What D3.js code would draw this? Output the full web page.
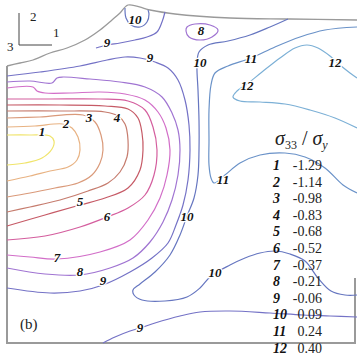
<!DOCTYPE html>
<html>
<head>
<meta charset="utf-8">
<script src="https://cdn.jsdelivr.net/npm/d3@7"></script>
<style>
  body { margin: 0; background: #fff; }
  svg text { font-family: "Liberation Serif", "DejaVu Serif", serif; }
</style>
</head>
<body>
<div id="chart"></div>
<script>
// contour levels and their sigma33/sigmay values (legend)
const contourLevels = [1, 2, 3, 4, 5, 6, 7, 8, 9, 10, 11, 12];
const levelValues = [-1.29, -1.14, -0.98, -0.83, -0.68, -0.52, -0.37, -0.21, -0.06, 0.09, 0.24, 0.40];

// plate outline, [x, depth] in plate units
const plateArc = [[0, 61], [13, 58], [26, 55], [43, 48], [60, 43], [78, 35], [93, 25], [105, 15], [113, 8], [121, 0]];
const plateTop = [[143, 5], [168, 9], [223, 13], [283, 14], [350, 15]];

// contour lines, [x, depth]
const contour1 = [[0, 130], [23, 130], [43, 131], [47, 136], [45, 144], [35, 153], [18, 158], [0, 160]];
const contour2 = [[0, 122], [28, 121], [56, 119], [65, 123], [71, 132], [73, 145], [70, 155], [61, 162], [43, 166], [23, 171], [0, 176]];
const contour3 = [[0, 113], [33, 112], [76, 110], [88, 117], [94, 130], [96, 145], [93, 158], [85, 170], [71, 178], [48, 183], [23, 188], [0, 192]];
const contour4 = [[0, 106], [53, 106], [98, 107], [111, 111], [118, 119], [121, 135], [120, 152], [113, 167], [101, 178], [81, 186], [53, 195], [23, 202], [0, 207]];
const contour5 = [[0, 100], [53, 100], [98, 101], [121, 104], [131, 113], [135, 128], [136, 145], [133, 165], [121, 183], [98, 193], [73, 200], [38, 210], [0, 221]];
const contour6 = [[0, 94], [43, 94], [93, 94], [121, 96], [138, 105], [146, 122], [150, 145], [147, 170], [138, 190], [121, 203], [100, 212], [73, 222], [38, 231], [0, 235]];
const contour7 = [[0, 83], [26, 82], [30, 86], [38, 88], [63, 88], [93, 87], [118, 89], [138, 95], [151, 107], [159, 123], [163, 145], [160, 170], [153, 193], [141, 215], [123, 235], [93, 247], [50, 254], [23, 252], [0, 250]];
const contour8 = [[0, 77], [23, 76], [45, 78], [50, 73], [56, 72], [83, 74], [113, 77], [138, 82], [155, 92], [165, 108], [171, 125], [173, 145], [171, 170], [165, 195], [156, 217], [143, 237], [126, 253], [103, 263], [73, 270], [38, 269], [0, 263]];
const contour8Loop = [[180, 22], [188, 19], [203, 20], [211, 25], [205, 32], [193, 35], [182, 32], [179, 26]];
const contour9 = [[0, 71], [33, 67], [73, 61], [100, 55], [118, 52], [133, 53], [148, 57], [161, 63], [171, 75], [178, 95], [182, 120], [183, 145], [181, 175], [176, 200], [169, 220], [161, 238], [145, 253], [123, 267], [96, 280], [73, 286], [43, 288], [0, 283]];
const contour9Corner = [[89, 43], [100, 40], [113, 38], [128, 35], [140, 32], [150, 27], [155, 17], [158, 7]];
const contour9Bottom = [[96, 338], [108, 332], [123, 326], [133, 323], [148, 318], [173, 311], [193, 307], [223, 306], [263, 308], [296, 310], [323, 311], [350, 312]];
const contour10Corner = [[118, 3], [119, 13], [124, 20], [133, 22], [140, 17], [142, 9], [141, 5]];
const contour10 = [[281, 14], [263, 22], [243, 30], [221, 36], [201, 40], [192, 47], [190, 60], [191, 85], [192, 115], [192, 145], [191, 170], [187, 193], [180, 211], [173, 230], [163, 250], [148, 267], [133, 279], [126, 285], [127, 290], [135, 295], [158, 296], [180, 292], [193, 283], [204, 271], [223, 260], [238, 253], [253, 248], [268, 246], [283, 249], [298, 256], [311, 273], [324, 286], [338, 290], [350, 290]];
const contour11 = [[350, 22], [318, 25], [293, 32], [268, 42], [244, 53], [221, 61], [208, 68], [204, 80], [202, 105], [202, 135], [202, 160], [204, 173], [207, 178], [218, 170], [233, 158], [253, 150], [278, 148], [298, 152], [318, 163], [336, 180], [350, 188]];
const contour12 = [[350, 73], [343, 68], [333, 60], [323, 51], [311, 43], [300, 40], [288, 43], [273, 53], [255, 67], [240, 79], [230, 86], [226, 92], [233, 96], [253, 97], [278, 99], [303, 105], [328, 113], [350, 123]];

// contour labels: [level, x, depth]
const contourLabels = [
  [1, 35, 126], [2, 59, 118], [3, 82, 112], [4, 110, 112], [5, 73, 196], [6, 100, 211],
  [7, 50, 252], [8, 73, 266], [9, 96, 275], [9, 100, 37], [9, 143, 52], [10, 128, 14],
  [8, 194, 25], [10, 193, 57], [11, 244, 53], [12, 328, 57], [12, 240, 80],
  [11, 216, 174], [10, 180, 211], [10, 208, 267], [9, 133, 322]
];

const levelColors = ['#f0e46a', '#e8b282', '#da9a7a', '#c67c6e', '#c65a66', '#d45e9e',
  '#d26ec8', '#a074d2', '#7472c6', '#6676c0', '#6a92c8', '#7cb0d6'];

const width = 357;
const height = 360;

const svg = d3.select('#chart')
  .append('svg')
  .attr('width', width)
  .attr('height', height)
  .attr('font-family', '"Liberation Serif", "DejaVu Serif", serif');

const x = d3.scaleLinear().domain([0, 348]).range([7, 355]);
const y = d3.scaleLinear().domain([0, 338]).range([5, 343]);
const color = d3.scaleOrdinal().domain(contourLevels).range(levelColors);

const line = d3.line()
  .x(d => x(d[0]))
  .y(d => y(d[1]))
  .curve(d3.curveCatmullRom.alpha(0.5));

// plate frame
svg.append('path')
  .attr('d', line(plateArc.concat(plateTop)))
  .attr('fill', 'none')
  .attr('stroke', '#9a9a9a')
  .attr('stroke-width', 1.3);

svg.append('path')
  .attr('d', d3.line()([[x(0), y(61)], [x(0), y(338)], [x(348), y(338)], [x(348), y(273)]]))
  .attr('fill', 'none')
  .attr('stroke', '#9a9a9a')
  .attr('stroke-width', 2);

// contour lines
const contourLines = [
  { level: 1, pts: contour1 }, { level: 2, pts: contour2 }, { level: 3, pts: contour3 },
  { level: 4, pts: contour4 }, { level: 5, pts: contour5 }, { level: 6, pts: contour6 },
  { level: 7, pts: contour7 }, { level: 8, pts: contour8 }, { level: 9, pts: contour9 },
  { level: 9, pts: contour9Corner }, { level: 9, pts: contour9Bottom },
  { level: 10, pts: contour10Corner }, { level: 10, pts: contour10 },
  { level: 11, pts: contour11 }, { level: 12, pts: contour12 }
];

contourLines.forEach(c => {
  svg.append('path')
    .attr('d', line(c.pts))
    .attr('fill', 'none')
    .attr('stroke', color(c.level))
    .attr('stroke-width', 1.2);
});

svg.append('path')
  .attr('d', d3.line().x(d => x(d[0])).y(d => y(d[1])).curve(d3.curveCatmullRomClosed)(contour8Loop))
  .attr('fill', 'none')
  .attr('stroke', color(8))
  .attr('stroke-width', 1.2);

// labels on the lines
svg.selectAll('.clabel')
  .data(contourLabels)
  .enter().append('text')
  .attr('class', 'clabel')
  .attr('x', d => x(d[1]))
  .attr('y', d => y(d[2]))
  .attr('dy', '0.35em')
  .attr('text-anchor', 'middle')
  .attr('font-size', 13)
  .attr('font-weight', 'bold')
  .attr('font-style', 'italic')
  .attr('fill', '#111')
  .attr('stroke', '#fff')
  .attr('stroke-width', 2.5)
  .attr('paint-order', 'stroke')
  .text(d => d[0]);

// orientation sign
svg.append('path')
  .attr('d', 'M19,13V45H52')
  .attr('fill', 'none')
  .attr('stroke', '#444')
  .attr('stroke-width', 1);
[['2', 30, 21], ['1', 53, 37], ['3', 7, 51]].forEach(t => {
  svg.append('text').attr('x', t[1]).attr('y', t[2])
    .attr('font-size', 13).attr('fill', '#222').text(t[0]);
});

svg.append('text')
  .attr('x', 20).attr('y', 329)
  .attr('font-size', 15).attr('fill', '#222')
  .text('(b)');

// legend
const title = svg.append('text')
  .attr('x', 275).attr('y', 145)
  .attr('font-size', 20).attr('fill', '#222');
title.append('tspan').attr('font-style', 'italic').text('σ');
title.append('tspan').attr('font-size', 12).attr('dy', 4).text('33');
title.append('tspan').attr('dy', -4).text(' / ');
title.append('tspan').attr('font-style', 'italic').text('σ');
title.append('tspan').attr('font-size', 12).attr('font-style', 'italic').attr('dy', 4).text('y');

const row = d3.scalePoint().domain(contourLevels).range([170, 352.6]);

svg.selectAll('.lnum')
  .data(contourLevels)
  .enter().append('text')
  .attr('class', 'lnum')
  .attr('x', 273)
  .attr('y', d => row(d))
  .attr('font-size', 14)
  .attr('font-weight', 'bold')
  .attr('font-style', 'italic')
  .attr('fill', '#111')
  .text(d => d);

svg.selectAll('.lval')
  .data(contourLevels)
  .enter().append('text')
  .attr('class', 'lval')
  .attr('x', 322)
  .attr('y', d => row(d))
  .attr('text-anchor', 'end')
  .attr('font-size', 14)
  .attr('fill', '#222')
  .text((d, i) => levelValues[i].toFixed(2));
</script>
</body>
</html>
